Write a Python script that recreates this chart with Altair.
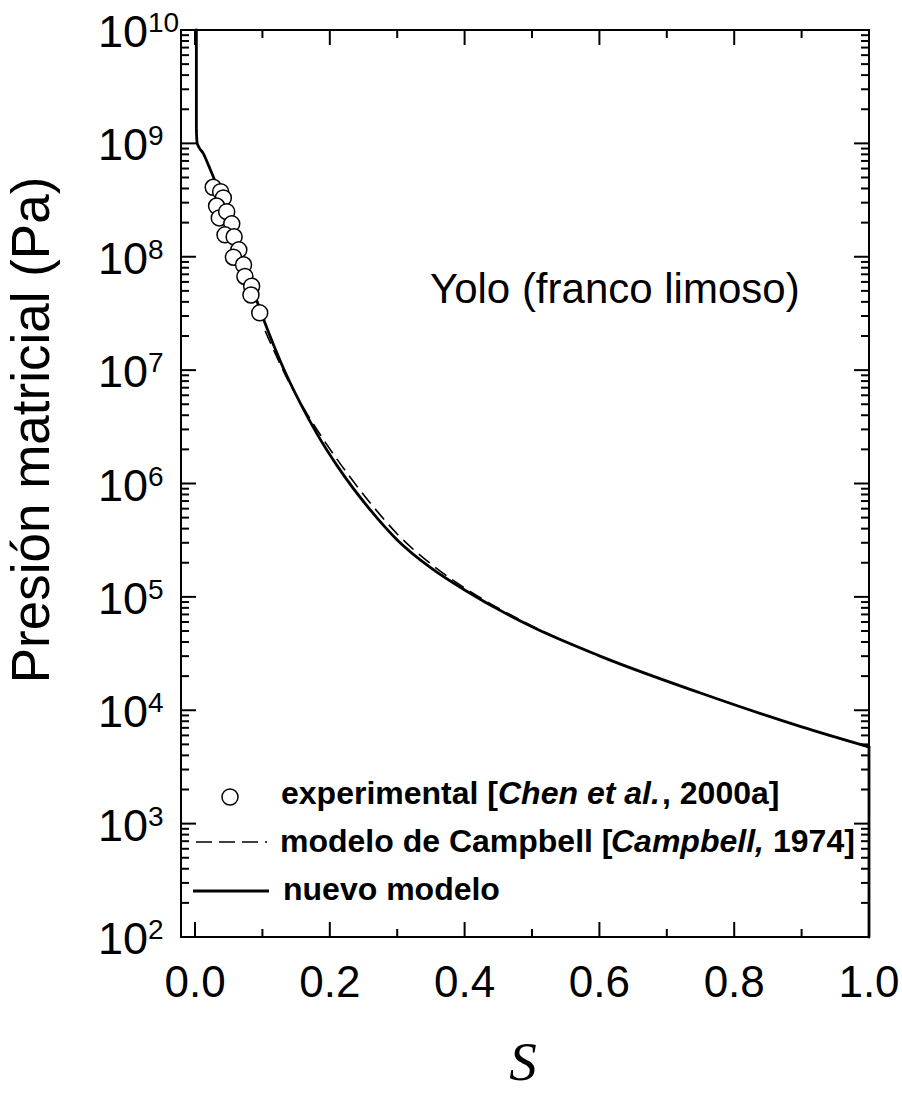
import altair as alt
import pandas as pd

# ---------------- data ----------------
exp_S = [0.027, 0.038, 0.042, 0.032, 0.036, 0.047, 0.0545, 0.0445, 0.058, 0.065,
         0.057, 0.072, 0.074, 0.084, 0.083, 0.096]
exp_P = [4.1e8, 3.75e8, 3.3e8, 2.8e8, 2.2e8, 2.5e8, 1.95e8, 1.56e8, 1.5e8, 1.15e8,
         9.9e7, 8.5e7, 6.7e7, 5.5e7, 4.6e7, 3.2e7]

# nuevo modelo: vertical start, smooth body, vertical end at S = 1
new_top_S = [0.002, 0.002]
new_top_P = [1e10, 1.3e9]
new_S = [0.002, 0.003, 0.006, 0.012, 0.021, 0.027, 0.04, 0.06, 0.08, 0.101,
         0.131, 0.156, 0.181, 0.211, 0.26, 0.30, 0.35, 0.40, 0.50, 0.60, 0.75, 0.90,
         1.0]
new_P = [1.3e9, 1.02e9, 9.2e8, 8.2e8, 6.2e8, 5.1e8, 3.04e8, 1.41e8, 6.5e7, 2.88e7,
         1.045e7, 5.14e6, 2.74e6, 1.43e6, 5.85e5, 3.18e5, 1.8e5, 1.15e5, 5.44e4,
         3.02e4, 1.42e4, 7.14e3, 4.75e3]
new_end_S = [1.0, 1.0]
new_end_P = [4.75e3, 1e2]

camp_S = [0.104, 0.12, 0.14, 0.16, 0.19, 0.23, 0.26, 0.30, 0.35, 0.40, 0.50,
          0.60, 0.75, 0.90, 1.0]
camp_P = [2.22e7, 1.36e7, 7.71e6, 4.74e6, 2.47e6, 1.14e6, 6.74e5, 3.59e5, 1.95e5,
          1.2e5, 5.55e4, 3.02e4, 1.42e4, 7.14e3, 4.7e3]

x_major = [0.0, 0.2, 0.4, 0.6, 0.8, 1.0]
x_labels = ["0.0", "0.2", "0.4", "0.6", "0.8", "1.0"]
x_minor = [0.1, 0.3, 0.5, 0.7, 0.9]
y_exponents = [2, 3, 4, 5, 6, 7, 8, 9, 10]
y_major = [10.0 ** e for e in y_exponents]
y_minor = [k * 10.0 ** e for e in range(2, 10) for k in range(2, 10)]

# ---------------- layout ----------------
W, H = 688, 907
FONT = "Liberation Sans"
xs = alt.Scale(domain=[-0.0208, 1.0], nice=False, zero=False)
ys = alt.Scale(type="log", domain=[1e2, 1e10], nice=False)


def frame(S, P):
    return pd.DataFrame({"S": S, "P": P, "i": range(len(S))})


df_exp = pd.DataFrame({"S": exp_S, "P": exp_P})
df_xmaj = pd.DataFrame({"S": x_major, "lab": x_labels})
df_xmin = pd.DataFrame({"S": x_minor})
df_ymaj = pd.DataFrame({"P": y_major, "e": [str(e) for e in y_exponents]})
df_ymin = pd.DataFrame({"P": y_minor})
one = alt.Data(values=[{"a": 1}])

X = lambda: alt.X("S:Q", scale=xs, axis=None)
Y = lambda: alt.Y("P:Q", scale=ys, axis=None)

layers = []
# ticks (inward) on all four sides
for df, L in [(df_xmaj, 15), (df_xmin, 8)]:
    layers.append(alt.Chart(df).mark_rule(color="black", strokeWidth=2).encode(
        x=X(), y=alt.value(0), y2=alt.value(L)))
    layers.append(alt.Chart(df).mark_rule(color="black", strokeWidth=2).encode(
        x=X(), y=alt.value(H), y2=alt.value(H - L)))
for df, L in [(df_ymaj, 15), (df_ymin, 8)]:
    layers.append(alt.Chart(df).mark_rule(color="black", strokeWidth=2).encode(
        y=Y(), x=alt.value(0), x2=alt.value(L)))
    layers.append(alt.Chart(df).mark_rule(color="black", strokeWidth=2).encode(
        y=Y(), x=alt.value(W), x2=alt.value(W - L)))

# curves
layers.append(alt.Chart(frame(camp_S, camp_P)).mark_line(
    color="black", strokeWidth=1.6, strokeDash=[14, 7], interpolate="monotone").encode(
    x=X(), y=Y(), order="i:Q"))
for S, P, interp in [(new_top_S, new_top_P, "linear"), (new_S, new_P, "monotone"),
                     (new_end_S, new_end_P, "linear")]:
    layers.append(alt.Chart(frame(S, P)).mark_line(
        color="black", strokeWidth=2.8, interpolate=interp, strokeCap="round").encode(
        x=X(), y=Y(), order="i:Q"))
layers.append(alt.Chart(df_exp).mark_point(shape="circle", filled=True, fill="white",
                                           stroke="black", strokeWidth=1.5, size=256,
                                           opacity=1).encode(x=X(), y=Y()))

# tick labels
layers.append(alt.Chart(df_xmaj).mark_text(font=FONT, fontSize=44, align="center",
                                           baseline="alphabetic", color="black").encode(
    x=X(), y=alt.value(H + 60), text="lab:N"))
layers.append(alt.Chart(df_ymaj).mark_text(font=FONT, fontSize=45, align="right",
                                           baseline="alphabetic", dy=17,
                                           color="black").encode(
    y=Y(), x=alt.value(-33), text=alt.value("10")))
layers.append(alt.Chart(df_ymaj).mark_text(font=FONT, fontSize=28, align="left",
                                           baseline="alphabetic", dy=2,
                                           color="black").encode(
    y=Y(), x=alt.value(-33), text="e:N"))

# axis titles
layers.append(alt.Chart(one).mark_text(font=FONT, fontSize=53, angle=270, align="center",
                                       baseline="alphabetic", color="black",
                                       text="Presión matricial (Pa)").encode(
    x=alt.value(-132), y=alt.value(400)))
layers.append(alt.Chart(one).mark_text(font="Liberation Serif", fontSize=55,
                                       fontStyle="italic", align="center",
                                       baseline="alphabetic", color="black",
                                       text="S").encode(
    x=alt.value(342), y=alt.value(1050)))

# annotation
layers.append(alt.Chart(one).mark_text(font=FONT, fontSize=42, align="left",
                                       baseline="alphabetic", color="black",
                                       text="Yolo (franco limoso)").encode(
    x=alt.value(249), y=alt.value(273)))


# legend
def seg(txt, x, y, italic=False):
    kw = dict(font=FONT, fontSize=32, fontWeight="bold", align="left",
              baseline="alphabetic", color="black", text=txt)
    if italic:
        kw["fontStyle"] = "italic"
    return alt.Chart(one).mark_text(**kw).encode(x=alt.value(x), y=alt.value(y))


layers.append(alt.Chart(one).mark_point(shape="circle", filled=True, fill="white",
                                        stroke="black", strokeWidth=1.5, size=256,
                                        opacity=1).encode(
    x=alt.value(49), y=alt.value(767)))
layers.append(alt.Chart(one).mark_rule(color="black", strokeWidth=1.6,
                                       strokeDash=[16, 7]).encode(
    x=alt.value(15), x2=alt.value(86), y=alt.value(812)))
layers.append(alt.Chart(one).mark_rule(color="black", strokeWidth=2.8).encode(
    x=alt.value(12), x2=alt.value(88), y=alt.value(861)))

layers.append(seg("experimental [", 100, 774))
layers.append(seg("Chen et al.", 317, 774, italic=True))
layers.append(seg(", 2000a]", 481, 774))
layers.append(seg("modelo de Campbell [", 99, 822))
layers.append(seg("Campbell,", 430, 822, italic=True))
layers.append(seg("1974]", 592, 822))
layers.append(seg("nuevo modelo", 102, 870))

chart = alt.layer(*layers).properties(
    width=W, height=H,
    padding={"left": 181, "top": 30, "right": 33, "bottom": 156},
    autosize=alt.AutoSizeParams(type="none"),
).configure_view(stroke="black", strokeWidth=2)

chart.save("out.html", embed_options={"renderer": "svg", "actions": False})
